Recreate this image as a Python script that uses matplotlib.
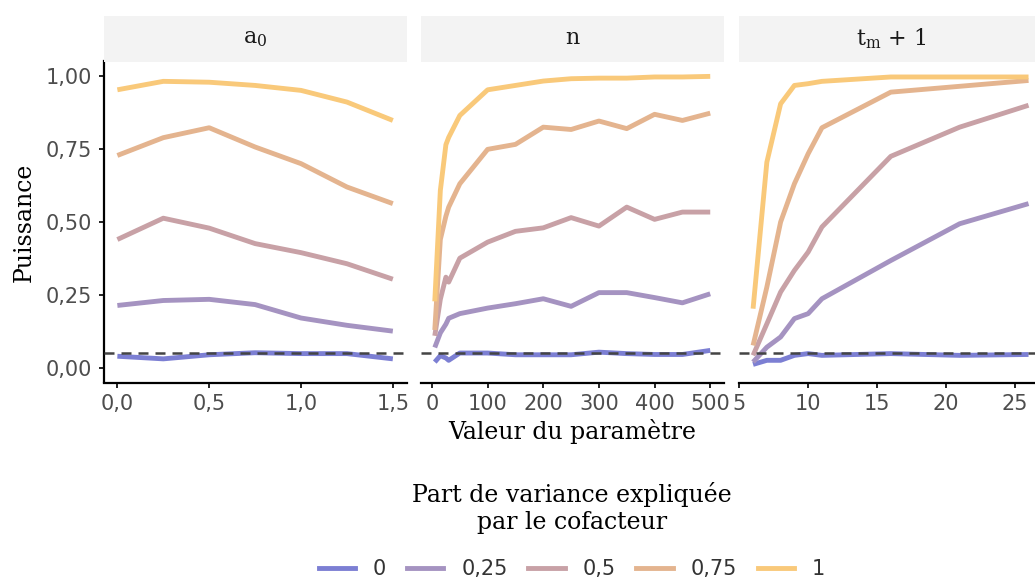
"""plot.py
Puissance du test selon la valeur du paramètre, une facette par paramètre,
une courbe par part de variance expliquée par le cofacteur.
"""

import matplotlib
matplotlib.use("Agg")
import matplotlib.pyplot as plt
from matplotlib.ticker import FuncFormatter

# part de variance expliquée par le cofacteur (une couleur par valeur)
variance_labels = ["0", "0,25", "0,5", "0,75", "1"]
variance_colors = ["#7C7FD3", "#A593C1", "#C8A1A6", "#E4B48F", "#F9C97A"]

# facette a0
a0_x = [0, 0.25, 0.5, 0.75, 1.0, 1.25, 1.5]
a0_power = [
    [0.040, 0.031, 0.045, 0.052, 0.049, 0.049, 0.031],
    [0.214, 0.231, 0.235, 0.217, 0.171, 0.146, 0.126],
    [0.440, 0.513, 0.479, 0.426, 0.395, 0.357, 0.304],
    [0.728, 0.789, 0.823, 0.757, 0.700, 0.620, 0.563],
    [0.953, 0.982, 0.979, 0.968, 0.951, 0.911, 0.848],
]

# facette n
n_x = [5, 15, 25, 30, 50, 100, 150, 200, 250, 300, 350, 400, 450, 500]
n_power = [
    [0.020, 0.042, 0.034, 0.026, 0.051, 0.051, 0.045, 0.045, 0.045, 0.054, 0.049, 0.046, 0.046, 0.060],
    [0.070, 0.120, 0.150, 0.170, 0.186, 0.205, 0.220, 0.237, 0.211, 0.258, 0.258, 0.241, 0.223, 0.254],
    [0.110, 0.235, 0.311, 0.294, 0.376, 0.431, 0.468, 0.480, 0.515, 0.486, 0.551, 0.509, 0.534, 0.534],
    [0.130, 0.440, 0.520, 0.551, 0.631, 0.749, 0.766, 0.825, 0.817, 0.846, 0.820, 0.869, 0.848, 0.873],
    [0.228, 0.608, 0.765, 0.790, 0.865, 0.953, 0.968, 0.983, 0.991, 0.993, 0.993, 0.997, 0.997, 0.999],
]

# facette tm + 1
tm_x = [6, 7, 8, 9, 10, 11, 16, 21, 26]
tm_power = [
    [0.012, 0.026, 0.026, 0.043, 0.049, 0.043, 0.049, 0.043, 0.046],
    [0.020, 0.071, 0.106, 0.169, 0.186, 0.237, 0.368, 0.494, 0.563],
    [0.043, 0.151, 0.260, 0.334, 0.397, 0.483, 0.725, 0.825, 0.900],
    [0.077, 0.277, 0.500, 0.631, 0.734, 0.823, 0.945, 0.965, 0.985],
    [0.203, 0.705, 0.905, 0.968, 0.974, 0.982, 0.997, 0.997, 0.997],
]

alpha_level = 0.05

SERIF = "DejaVu Serif"
SANS = "DejaVu Sans"
W, H = 1035, 579


def comma_fmt(decimals):
    return FuncFormatter(lambda v, pos: f"{v:.{decimals}f}".replace(".", ","))


def draw_panel(fig, left_px, x, power, xlim, xticks, xfmt, title, show_y):
    """un panneau + son bandeau gris au-dessus"""
    bottom = 1 - 382.5 / H
    height = 321 / H
    ax = fig.add_axes([left_px / W, bottom, 303 / W, height])
    for serie, col in zip(power, variance_colors):
        ax.plot(x, serie, color=col, lw=3.5, solid_capstyle="butt", zorder=2)
    ax.axhline(alpha_level, color="#444444", lw=1.8, dashes=(4, 2.8), zorder=3)

    ax.set_xlim(*xlim)
    ax.set_ylim(-0.05, 1.05)
    ax.set_xticks(xticks)
    ax.xaxis.set_major_formatter(xfmt)
    ax.set_yticks([0, 0.25, 0.5, 0.75, 1.0])
    ax.yaxis.set_major_formatter(comma_fmt(2))

    for s in ["top", "right"]:
        ax.spines[s].set_visible(False)
    ax.spines["bottom"].set_linewidth(1.6)
    ax.spines["left"].set_linewidth(1.6)
    ax.spines["left"].set_visible(show_y)
    ax.tick_params(axis="both", length=3.8, width=1.4, color="#222222",
                   labelcolor="#4D4D4D", labelsize=15, pad=4.5)
    if not show_y:
        ax.tick_params(axis="y", left=False, labelleft=False)
    for lab in ax.get_xticklabels() + ax.get_yticklabels():
        lab.set_family(SANS)

    strip = fig.add_axes([left_px / W, 1 - 61.5 / H, 303 / W, 46 / H])
    strip.set_facecolor("#F3F3F3")
    strip.set_xticks([])
    strip.set_yticks([])
    for s in strip.spines.values():
        s.set_visible(False)
    strip.text(0.5, 0.5, title, ha="center", va="center", fontsize=16,
               family=SERIF, color="#1A1A1A", transform=strip.transAxes)
    return ax


if __name__ == "__main__":
    plt.rcParams["mathtext.fontset"] = "dejavuserif"
    fig = plt.figure(figsize=(W / 100, H / 100), dpi=100)

    draw_panel(fig, 103.6, a0_x, a0_power, (-0.075, 1.575),
               [0, 0.5, 1.0, 1.5], comma_fmt(1), r"a$_\mathregular{0}$", True)
    draw_panel(fig, 421, n_x, n_power, (-19.75, 524.75),
               [0, 100, 200, 300, 400, 500], comma_fmt(0), "n", False)
    draw_panel(fig, 739.3, tm_x, tm_power, (5, 27),
               [5, 10, 15, 20, 25], comma_fmt(0), r"t$_\mathregular{m}$ + 1", False)

    # titres des axes
    fig.text(572 / W, 1 - 432 / H, "Valeur du paramètre", ha="center", va="center",
             fontsize=17, family=SERIF, color="black")
    fig.text(24 / W, 1 - 222 / H, "Puissance", ha="center", va="center",
             rotation=90, fontsize=17, family=SERIF, color="black")

    # légende en bas
    fig.text(572 / W, 1 - 508 / H, "Part de variance expliquée\npar le cofacteur",
             ha="center", va="center", multialignment="center", linespacing=1.2,
             fontsize=17, family=SERIF, color="black")
    handles = [plt.Line2D([], [], color=c, lw=3.5) for c in variance_colors]
    leg = fig.legend(handles, variance_labels, loc="center", ncol=5,
                     bbox_to_anchor=(572 / W, 1 - 569 / H), frameon=False,
                     handlelength=1.75, handletextpad=0.85, columnspacing=1.0,
                     prop={"family": SANS, "size": 15})
    for t in leg.get_texts():
        t.set_color("#333333")

    fig.savefig("out.png", dpi=100)
